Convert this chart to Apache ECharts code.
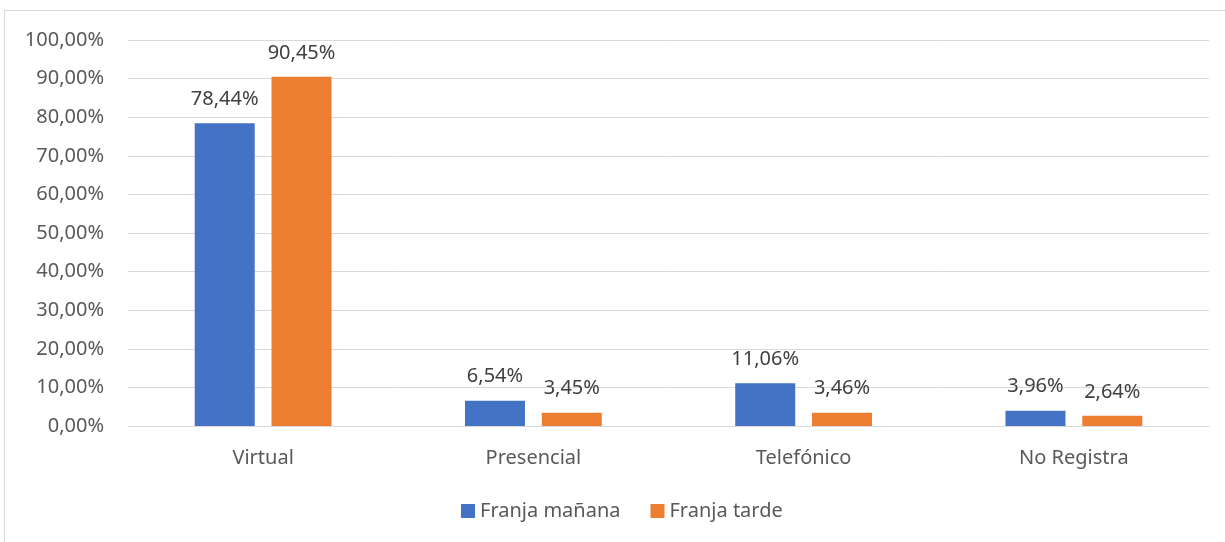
<!DOCTYPE html>
<html>
<head>
<meta charset="utf-8">
<script src="https://cdn.jsdelivr.net/npm/echarts@6/dist/echarts.min.js"></script>
<style>
  html, body { margin: 0; padding: 0; background: #fff; }
  #chart { width: 1225px; height: 542px; }
  #frame { position: absolute; left: 4px; top: 10px; width: 1240px; height: 560px;
           border: 1px solid #d9d9d9; pointer-events: none; }
</style>
</head>
<body>
<div id="chart"></div>
<div id="frame"></div>
<script>
var categories = ['Virtual', 'Presencial', 'Telefónico', 'No Registra']
var franjaManana = [78.44, 6.54, 11.06, 3.96]
var franjaTarde = [90.45, 3.45, 3.46, 2.64]
var yTicks = [0, 10, 20, 30, 40, 50, 60, 70, 80, 90, 100]

function pct(v) {
  return Number(v).toFixed(2).replace('.', ',') + '%'
}

var font = 'Noto Sans'
var fs = 20
var chart = echarts.init(document.getElementById('chart'))
chart.setOption({
  animation: false,
  textStyle: { fontFamily: font },
  legend: {
    bottom: 21,
    left: 461,
    itemWidth: 14,
    itemHeight: 14,
    itemGap: 30,
    itemTextGap: 6,
    padding: 0,
    icon: 'rect',
    textStyle: { color: '#595959', fontSize: fs, fontFamily: font },
    data: ['Franja mañana', 'Franja tarde']
  },
  grid: {
    left: 128,
    right: 16,
    top: 40,
    bottom: 116
  },
  xAxis: {
    type: 'category',
    data: categories,
    axisLine: { lineStyle: { color: '#d9d9d9', width: 1 } },
    axisTick: { show: false },
    axisLabel: { color: '#595959', fontSize: fs, margin: 22, fontFamily: font }
  },
  yAxis: {
    type: 'value',
    min: yTicks[0],
    max: yTicks[yTicks.length - 1],
    interval: 10,
    axisLine: { show: false },
    axisTick: { show: false },
    splitLine: { lineStyle: { color: '#d9d9d9', width: 1 } },
    axisLabel: {
      color: '#595959', fontSize: fs, margin: 24, fontFamily: font,
      formatter: function (v) { return pct(v) }
    }
  },
  series: [
    {
      name: 'Franja mañana',
      type: 'bar',
      barWidth: 60,
      barGap: '28%',
      itemStyle: { color: '#4472C4' },
      label: {
        show: true, position: 'top', distance: 14,
        color: '#404040', fontSize: fs, fontFamily: font,
        formatter: function (p) { return pct(p.value) }
      },
      data: franjaManana
    },
    {
      name: 'Franja tarde',
      type: 'bar',
      barWidth: 60,
      itemStyle: { color: '#ED7D31' },
      label: {
        show: true, position: 'top', distance: 14,
        color: '#404040', fontSize: fs, fontFamily: font,
        formatter: function (p) { return pct(p.value) }
      },
      data: franjaTarde
    }
  ]
})
</script>
</body>
</html>
